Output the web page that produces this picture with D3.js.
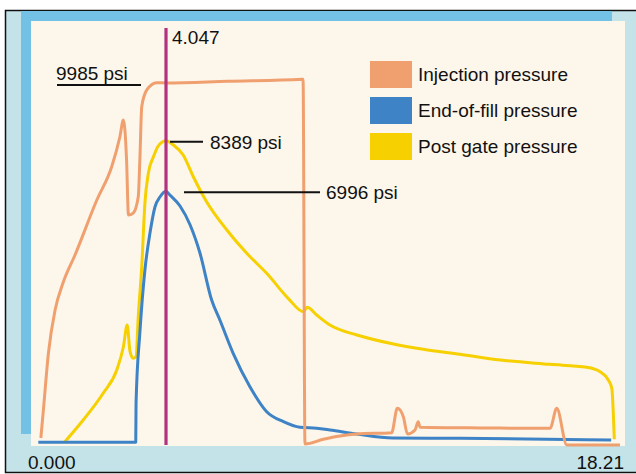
<!DOCTYPE html>
<html>
<head>
<meta charset="utf-8">
<script src="https://cdn.jsdelivr.net/npm/d3@7"></script>
<style>
  body { margin: 0; background: #ffffff; }
  text { font-family: "Liberation Sans", Arial, Helvetica, sans-serif; fill: #111; }
</style>
</head>
<body>
<div id="chart"></div>
<script>
// time axis limits and the cursor position (seconds)
var timeMin = 0;
var timeMax = 18.21;
var cursorTime = 4.047;
var tickLabels = ["0.000", "18.21"];

// series names and colours, legend order
var seriesNames = ["Injection pressure", "End-of-fill pressure", "Post gate pressure"];
var seriesColors = ["#f0a06f", "#3d83c6", "#f6d000"];

// [time, psi]
var injection = [
  [0.09, 193], [0.17, 965], [0.33, 2537], [0.54, 3723], [0.79, 4468], [1.17, 5240],
  [1.86, 6757], [2.33, 7675], [2.59, 8503], [2.70, 8964], [2.80, 7860], [2.86, 6343],
  [3.01, 6398], [3.17, 6848], [3.22, 7860], [3.28, 9330], [3.44, 9793], [3.75, 9992],
  [4.047, 9985], [6.0, 10030], [8.34, 10086], [8.38, 10090], [8.44, 30], [9.02, 157],
  [9.55, 248], [10.08, 303], [11.18, 339], [11.36, 1012], [11.55, 781], [11.68, 303],
  [11.92, 414], [12.02, 643], [12.08, 488], [14.0, 470], [16.19, 461], [16.40, 1012],
  [16.72, 0], [18.40, 0]
];
var endOfFill = [
  [0.01, 74], [3.09, 74], [3.10, 1158], [3.22, 3089], [3.38, 4827], [3.54, 5847],
  [3.70, 6572], [3.86, 6848], [4.047, 6996], [4.17, 6895], [4.49, 6592], [4.81, 6068],
  [5.12, 5295], [5.49, 3999], [5.75, 3448], [6.17, 2529], [6.70, 1608], [7.23, 918],
  [7.76, 643], [8.28, 488], [8.81, 461], [9.23, 414], [10.08, 303], [11.21, 193],
  [13.34, 185], [18.12, 138]
];
var postGate = [
  [0.85, 91], [1.43, 690], [2.06, 1426], [2.49, 2069], [2.70, 2711], [2.82, 3310],
  [2.91, 2573], [3.01, 2391], [3.10, 2435], [3.17, 3538], [3.28, 4918], [3.38, 6674],
  [3.49, 7502], [3.65, 7951], [3.80, 8246], [4.047, 8389], [4.28, 8274], [4.59, 7998],
  [4.91, 7400], [5.33, 6710], [5.97, 5930], [6.60, 5287], [7.23, 4736], [7.91, 4046],
  [8.39, 3676], [8.51, 3798], [8.81, 3585], [9.23, 3310], [10.08, 3034], [11.13, 2805],
  [12.18, 2639], [13.34, 2502], [14.61, 2344], [16.19, 2225], [17.35, 2143], [17.77, 2022],
  [18.03, 1793], [18.14, 1564], [18.22, 157]
];

// callouts: [time, psi, label]
var callouts = [
  [4.047, 9985, "9985 psi"],
  [4.047, 8389, "8389 psi"],
  [4.047, 6996, "6996 psi"]
];

var W = 636, H = 474;

var svg = d3.select("#chart")
  .append("svg")
    .attr("width", W)
    .attr("height", H);

// frame: teal base, blue bands, cream plot panel
svg.append("rect")
  .attr("x", 5.5).attr("y", 10.5)
  .attr("width", W).attr("height", 462)
  .attr("fill", "#c3e3e8")
  .attr("stroke", "#111").attr("stroke-width", 1.5);
svg.append("rect")
  .attr("x", 21).attr("y", 11).attr("width", 591).attr("height", 10)
  .attr("fill", "#73c2e6");
svg.append("rect")
  .attr("x", 21).attr("y", 11).attr("width", 10).attr("height", 423)
  .attr("fill", "#73c2e6");
svg.append("rect")
  .attr("x", 31).attr("y", 21).attr("width", 594).attr("height", 425)
  .attr("fill", "#fdf6eb");

var x = d3.scaleLinear()
  .domain([timeMin, timeMax])
  .range([38, 614]);

var y = d3.scaleLinear()
  .domain([0, 9985])
  .range([445, 83]);

var line = d3.line()
  .curve(d3.curveMonotoneX)
  .x(function(d) { return x(d[0]); })
  .y(function(d) { return y(d[1]); });

// draw order: post gate, end-of-fill, injection on top
var drawOrder = [[postGate, 2], [endOfFill, 1], [injection, 0]];
drawOrder.forEach(function(s) {
  svg.append("path")
    .datum(s[0])
    .attr("fill", "none")
    .attr("stroke", seriesColors[s[1]])
    .attr("stroke-width", 3)
    .attr("stroke-linejoin", "round")
    .attr("d", line);
});

// cursor line
svg.append("line")
  .attr("x1", x(cursorTime)).attr("x2", x(cursorTime))
  .attr("y1", 28).attr("y2", 445)
  .attr("stroke", "#b3327f")
  .attr("stroke-width", 3.2);

svg.append("text")
  .attr("x", x(cursorTime) + 6)
  .attr("y", 44)
  .style("font-size", "19px")
  .text(d3.format(".3f")(cursorTime));

// callout leaders and labels
// first one is an underline to the left, the others point right
svg.append("line")
  .attr("x1", 57).attr("x2", 141)
  .attr("y1", y(callouts[0][1]) + 2).attr("y2", y(callouts[0][1]) + 2)
  .attr("stroke", "#111").attr("stroke-width", 2);
svg.append("text")
  .attr("x", 56).attr("y", y(callouts[0][1]) - 3)
  .style("font-size", "19px")
  .text(callouts[0][2]);

var leaderX = [[170, 203, 210], [184, 320, 326]];
callouts.slice(1).forEach(function(c, i) {
  var ly = y(c[1]) + 1;
  svg.append("line")
    .attr("x1", leaderX[i][0]).attr("x2", leaderX[i][1])
    .attr("y1", ly).attr("y2", ly)
    .attr("stroke", "#111").attr("stroke-width", 2);
  svg.append("text")
    .attr("x", leaderX[i][2]).attr("y", ly + 7)
    .style("font-size", "19px")
    .text(c[2]);
});

// legend
var legend = svg.selectAll(".legend")
  .data(seriesNames)
  .enter()
  .append("g")
    .attr("class", "legend")
    .attr("transform", function(d, i) { return "translate(370," + (61 + i * 36) + ")"; });

legend.append("rect")
  .attr("width", 42).attr("height", 27)
  .attr("fill", function(d, i) { return seriesColors[i]; });

legend.append("text")
  .attr("x", 48).attr("y", 20)
  .style("font-size", "19px")
  .text(function(d) { return d; });

// end labels of the time axis
svg.append("text")
  .attr("x", x(timeMin) - 10).attr("y", 469)
  .style("font-size", "19px")
  .text(tickLabels[0]);
svg.append("text")
  .attr("x", x(timeMax) + 10).attr("y", 469)
  .attr("text-anchor", "end")
  .style("font-size", "19px")
  .text(tickLabels[1]);
</script>
</body>
</html>
